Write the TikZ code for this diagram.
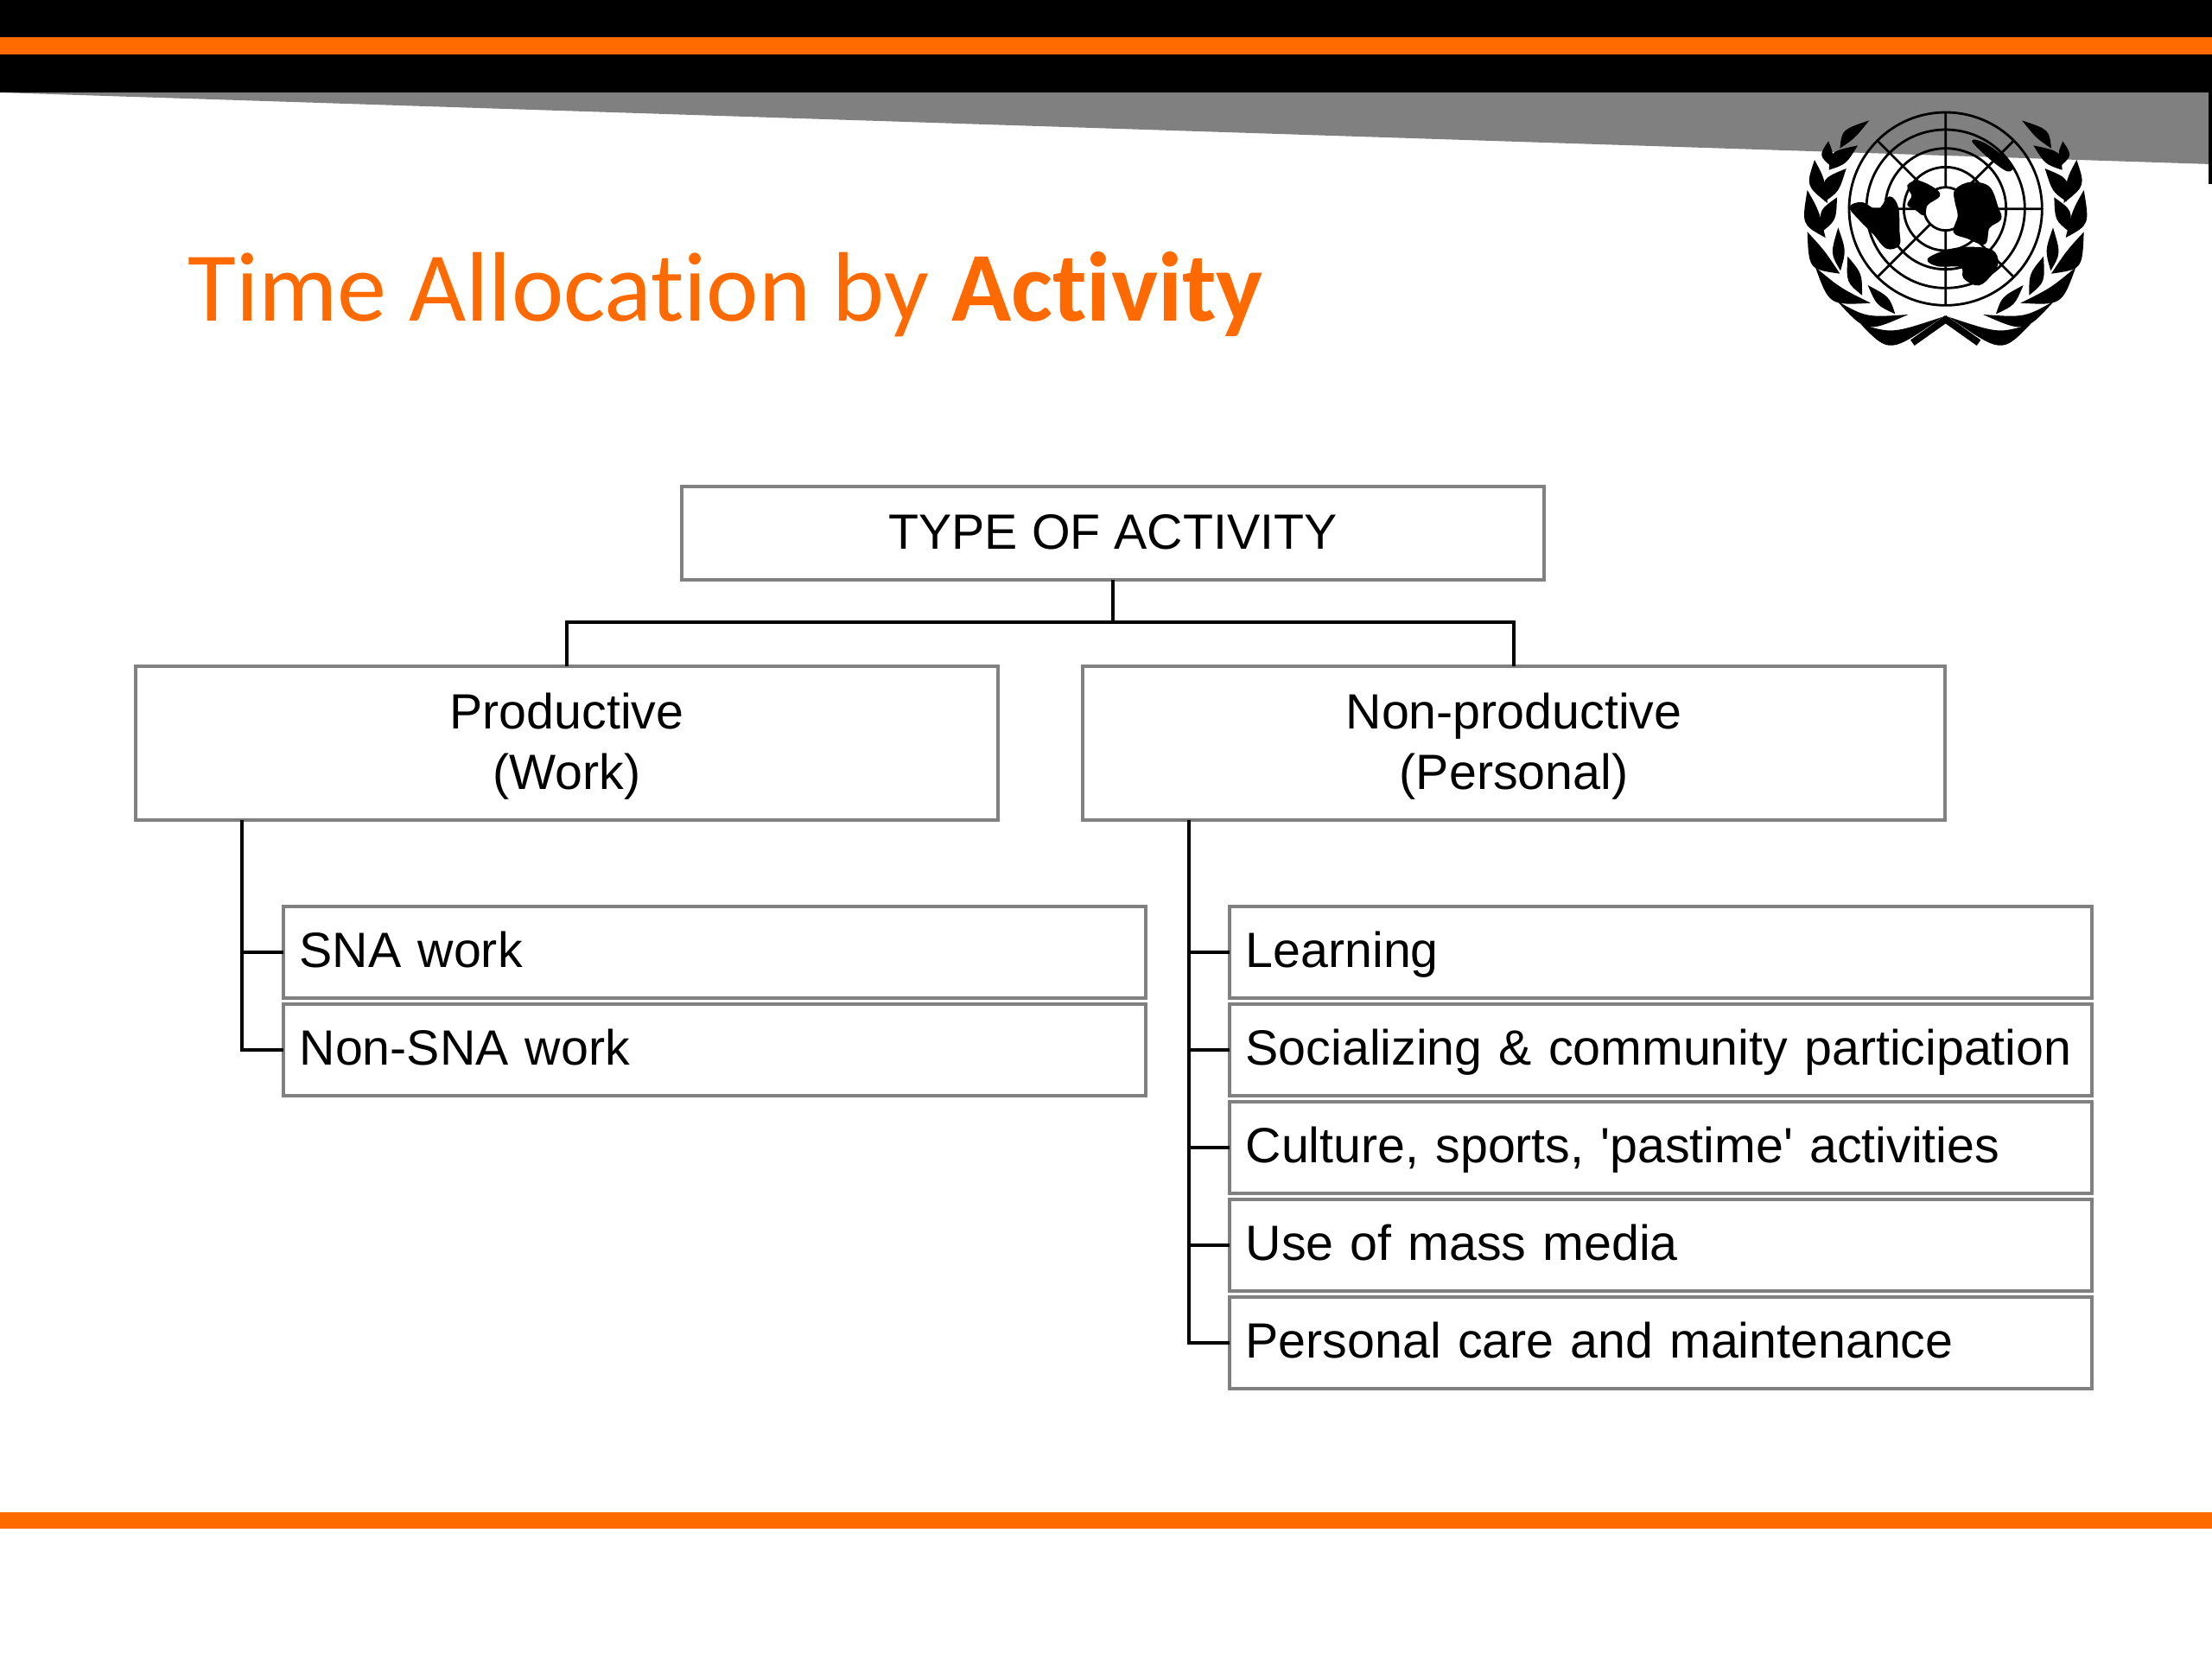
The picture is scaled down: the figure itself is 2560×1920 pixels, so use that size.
\documentclass[tikz,border=0pt]{standalone}
\usepackage{fontspec}
\setmainfont{Liberation Sans}
\newfontfamily\titlefont[Ligatures=NoCommon]{Carlito}
\definecolor{unorange}{HTML}{FF6A00}
\definecolor{boxgray}{HTML}{808080}
\tikzset{
  boxbase/.style={draw=boxgray,line width=0.04cm,fill=white,outer sep=0pt,inner sep=0pt,font=\fontsize{16.3}{20}\selectfont},
  headbox/.style={boxbase,minimum width=9.97cm,align=center},
  rowbox/.style={boxbase,minimum width=9.97cm,minimum height=1.065cm,text width=9.6cm,align=left,text height=0.50cm,text depth=0.15cm},
  conn/.style={draw=black,line width=0.035cm},
  blob/.style={fill=black,draw=black,line width=0.02cm},
  ring/.style={line width=0.028cm},
}
\newcommand{\leafshape}[8]{\fill (#1,#2) .. controls (#5,#6) .. (#3,#4) .. controls (#7,#8) .. (#1,#2);}
\newcommand{\headstrut}{\rule{0pt}{13.8pt}}
\newcommand{\wreathside}{%
  % outer leaves
  \leafshape{625}{800}{340}{825}{440}{928}{450}{858}
  \leafshape{505}{792}{258}{745}{360}{856}{360}{802}
  \leafshape{375}{752}{183}{628}{231}{760}{270}{700}
  \leafshape{268}{650}{155}{505}{160}{635}{215}{570}
  \leafshape{218}{525}{155}{360}{135}{480}{195}{430}
  \leafshape{225}{405}{180}{255}{150}{345}{215}{320}
  \leafshape{240}{280}{228}{190}{195}{240}{245}{230}
  \leafshape{268}{215}{370}{118}{275}{150}{320}{180}
  % inner leaves
  \leafshape{460}{790}{365}{690}{395}{760}{440}{730}
  \leafshape{345}{725}{295}{590}{290}{680}{345}{650}
  \leafshape{270}{640}{262}{490}{235}{580}{290}{570}
  \leafshape{205}{505}{258}{385}{195}{430}{255}{465}
  \leafshape{215}{400}{290}{285}{205}{320}{265}{365}
  \leafshape{230}{290}{330}{205}{235}{225}{290}{270}
  % stems
  \draw[line width=0.08cm] (640,805) -- (520,890);
}
\begin{document}
\begin{tikzpicture}[x=0.01cm,y=-0.01cm]
\useasboundingbox (0,0) rectangle (2560,1920);
% header
\fill[black] (0,0) rectangle (2560,107);
\fill[unorange] (0,43) rectangle (2560,63);
\fill[boxgray] (0,107) -- (2560,107) -- (2560,190) -- cycle;
\fill[black] (2556,107) rectangle (2560,213);
\fill[unorange] (0,1750) rectangle (2560,1769);
% title
\node[anchor=base west,inner sep=0pt,text=unorange,font=\titlefont\fontsize{32.5}{38}\selectfont] (title) at (217,371) {Time Allocation by \textbf{Activity}};
% emblem
\begin{scope}[shift={(2040,100)},x=0.01cm/3,y=-0.01cm/3]
  \wreathside
\end{scope}
\begin{scope}[shift={(2463.33,100)},x=-0.01cm/3,y=-0.01cm/3]
  \wreathside
\end{scope}
\begin{scope}[shift={(2040,100)},x=0.01cm/3,y=-0.01cm/3]
  \draw[ring] (635,425) circle[radius=335] circle[radius=275] circle[radius=210] circle[radius=145] circle[radius=75];
  \draw[ring] (635,90) -- (635,350) (635,500) -- (635,760) (300,425) -- (560,425) (710,425) -- (970,425)
     (398,188) -- (582,372) (688,478) -- (872,662) (398,662) -- (582,478) (688,372) -- (872,188);
  \filldraw[blob] plot[smooth cycle,tension=0.6] coordinates {(305,420) (345,405) (400,430) (440,385) (468,420) (472,500) (472,550) (430,560) (385,510) (340,465)};
  \filldraw[blob] plot[smooth cycle,tension=0.6] coordinates {(505,345) (540,330) (595,355) (612,380) (570,410) (560,445) (530,425) (505,410) (520,380)};
  \filldraw[blob] plot[smooth cycle,tension=0.6] coordinates {(670,360) (720,335) (785,350) (815,420) (825,460) (785,490) (770,545) (710,525) (665,505) (680,450) (670,400)};
  \filldraw[blob] plot[smooth cycle,tension=0.6] coordinates {(575,600) (640,570) (720,560) (795,570) (815,610) (795,650) (750,688) (700,665) (690,625) (610,622)};
  \filldraw[blob] plot[smooth cycle,tension=0.6] coordinates {(730,190) (780,205) (862,270) (850,292) (790,250)};
\end{scope}
% diagram
\node[headbox,minimum height=1.07cm,text depth=1pt] (type) at (1288,617) {TYPE OF ACTIVITY};
\node[headbox,minimum height=1.78cm] (prod) at (656,860) {\headstrut Productive\\(Work)};
\node[headbox,minimum height=1.78cm] (nonprod) at (1752,860) {\headstrut Non-productive\\(Personal)};
\node[rowbox] (sna) at (827,1102) {SNA work};
\node[rowbox] (nonsna) at (827,1215) {Non-SNA work};
\node[rowbox] (learn) at (1922,1102) {Learning};
\node[rowbox] (social) at (1922,1215) {\mbox{Socializing \& community participation}};
\node[rowbox] (culture) at (1922,1328) {Culture, sports, \textquotesingle pastime\textquotesingle{} activities};
\node[rowbox] (media) at (1922,1441) {Use of mass media};
\node[rowbox] (care) at (1922,1554) {Personal care and maintenance};
\coordinate (bus) at (1288,720);
\coordinate (barL) at (280,949);
\coordinate (barR) at (1376,949);
\draw[conn] (type.south) -- (bus);
\draw[conn] (prod.north) |- (bus) -| (nonprod.north);
\draw[conn] (barL) |- (sna.west);
\draw[conn] (barL) |- (nonsna.west);
\draw[conn] (barR) |- (learn.west);
\draw[conn] (barR) |- (social.west);
\draw[conn] (barR) |- (culture.west);
\draw[conn] (barR) |- (media.west);
\draw[conn] (barR) |- (care.west);
\end{tikzpicture}
\end{document}
